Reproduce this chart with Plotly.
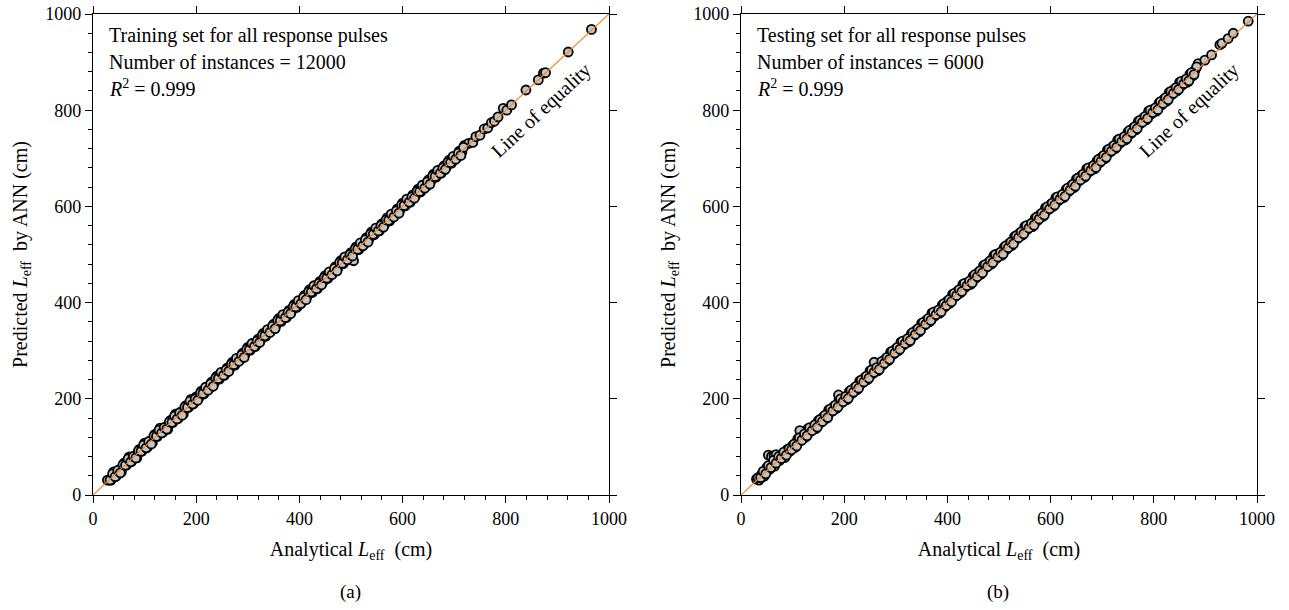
import plotly.graph_objects as go

# ---------------- data ----------------
train_x = [28, 35, 40, 45, 50, 55, 60, 65, 70, 75, 80, 85, 90, 95, 100, 105, 110, 115, 120, 125,
           130, 135, 140, 145, 150, 155, 160, 165, 170, 175, 180, 185, 190, 195,
           200, 205, 210, 215, 220, 225, 230, 235, 240, 245, 250, 255, 260, 265, 270, 275,
           280, 285, 290, 295, 300, 305, 310, 315, 320, 325, 330, 335, 340, 345, 350, 355,
           360, 365, 370, 375, 380, 385, 390, 395, 400, 405, 410, 415, 420, 425, 430, 435,
           440, 445, 450, 455, 460, 465, 470, 475, 480, 485, 490, 495, 500, 505, 510, 515,
           520, 525, 530, 535, 540, 545, 550, 555, 560, 565, 570, 575, 580, 585, 590, 595,
           600, 605, 610, 615, 620, 625, 630, 635, 640, 645, 650, 655, 660, 665, 670, 675,
           680, 685, 690, 695, 700, 705, 710, 715, 720,
           728, 736, 742, 750, 758, 765, 772, 778, 785, 795, 802, 811, 839, 863, 873, 877, 921, 966]
train_y = [31, 31, 48, 39, 52, 48, 66, 62, 79, 70, 81, 77, 95, 91, 108, 99, 112, 108, 126, 122,
           139, 130, 141, 137, 155, 151, 168, 159, 172, 168, 186, 182, 199, 190,
           204, 202, 216, 210, 222, 221, 235, 233, 247, 241, 251, 249, 264, 262, 276, 270,
           282, 281, 295, 293, 307, 301, 311, 309, 324, 322, 336, 330, 342, 341, 355, 353,
           367, 361, 371, 369, 384, 382, 396, 390, 402, 401, 415, 413, 427, 421, 431, 429,
           444, 442, 456, 450, 462, 461, 475, 473, 487, 481, 491, 489, 504, 487, 516, 510,
           522, 521, 535, 533, 547, 541, 551, 549, 564, 562, 576, 570, 582, 581, 595, 593,
           607, 601, 611, 609, 624, 622, 636, 630, 642, 641, 655, 653, 667, 661, 671, 669,
           684, 682, 696, 690, 702, 701, 715, 713, 727,
           731, 733, 745, 748, 761, 763, 774, 777, 786, 804, 800, 811, 842, 863, 877, 878, 921, 968]

# second batch of training instances (between the first ones)
train_x2 = [33, 38, 43, 48, 53, 58, 63, 68, 73, 78, 83, 88, 93, 98, 103, 108, 113, 118, 123, 128,
            133, 138, 143, 148, 153, 158, 163, 168, 173, 178, 183, 188, 193, 198, 203, 208,
            213, 218, 223, 228, 233, 238, 243, 248, 253, 258, 263, 268, 273, 278, 283, 288,
            293, 298, 303, 308, 313, 318, 323, 328, 333, 338, 343, 348, 353, 358, 363, 368,
            373, 378, 383, 388, 393, 398, 403, 408, 413, 418, 423, 428, 433, 438, 443, 448,
            453, 458, 463, 468, 473, 478, 483, 488, 493, 498, 503, 508, 513, 518, 523, 528,
            533, 538, 543, 548, 553, 558, 563, 568, 573, 578, 583, 588, 593, 598, 603, 608,
            613, 618, 623, 628, 633, 638, 643, 648, 653, 658, 663, 668, 673, 678, 683, 688,
            693, 698, 703, 708, 713, 718]
train_y2 = [31, 44, 38, 51, 46, 63, 62, 75, 69, 80, 77, 92, 91, 104, 98, 111, 106, 123, 122, 135,
            129, 140, 137, 152, 151, 164, 158, 171, 166, 183, 182, 195, 189, 200, 197, 212,
            211, 224, 218, 231, 226, 243, 242, 255, 249, 260, 257, 272, 271, 284, 278, 291,
            286, 303, 302, 315, 309, 320, 317, 332, 331, 344, 338, 351, 346, 363, 362, 375,
            369, 380, 377, 392, 391, 404, 398, 411, 406, 423, 422, 435, 429, 440, 437, 452,
            451, 464, 458, 471, 466, 483, 482, 495, 489, 500, 497, 512, 511, 524, 518, 531,
            526, 543, 542, 555, 549, 560, 557, 572, 571, 584, 578, 591, 586, 603, 602, 615,
            609, 620, 617, 632, 631, 644, 638, 651, 646, 663, 662, 675, 669, 680, 677, 692,
            691, 704, 698, 711, 706, 723]

test_x = [30, 35, 40, 45, 50, 55, 60, 65, 70, 75, 80, 85, 90, 95, 100, 105, 110, 115, 120, 125,
          130, 135, 140, 145, 150, 155, 160, 165, 170, 175, 180, 185, 190, 195, 200, 205,
          210, 215, 220, 225, 230, 235, 240, 245, 250, 255, 260, 265, 270, 275, 280, 285,
          290, 295, 300, 305, 310, 315, 320, 325, 330, 335, 340, 345, 350, 355, 360, 365,
          370, 375, 380, 385, 390, 395, 400, 405, 410, 415, 420, 425, 430, 435, 440, 445,
          450, 455, 460, 465, 470, 475, 480, 485, 490, 495, 500, 505, 510, 515, 520, 525,
          530, 535, 540, 545, 550, 555, 560, 565, 570, 575, 580, 585, 590, 595, 600, 605,
          610, 615, 620, 625, 630, 635, 640, 645, 650, 655, 660, 665, 670, 675, 680, 685,
          690, 695, 700, 705, 710, 715, 720, 725, 730, 735, 740, 745, 750, 755, 760, 765,
          770, 775, 780, 785, 790, 795, 800, 805, 810, 815, 820, 825, 830, 835, 840, 845,
          850, 855, 860, 865, 870, 875, 880,
          886, 883, 899, 912, 928, 932, 944, 954, 983,
          53, 59, 64, 68, 114, 189, 258]
test_y = [33, 31, 43, 39, 57, 53, 64, 60, 78, 72, 82, 78, 95, 91, 103, 99, 117, 113, 124, 120,
          138, 132, 142, 138, 155, 151, 163, 159, 177, 173, 184, 180, 198, 192, 202, 198,
          215, 211, 223, 219, 237, 233, 244, 240, 258, 252, 262, 258, 275, 271, 283, 279,
          297, 293, 304, 300, 318, 312, 322, 318, 335, 331, 343, 339, 357, 353, 364, 360,
          378, 372, 382, 378, 395, 391, 403, 399, 417, 413, 424, 420, 438, 432, 442, 438,
          455, 451, 463, 459, 477, 473, 484, 480, 498, 492, 502, 498, 515, 511, 523, 519,
          537, 533, 544, 540, 558, 552, 562, 558, 575, 571, 583, 579, 597, 593, 604, 600,
          618, 612, 622, 618, 635, 631, 643, 639, 657, 653, 664, 660, 678, 672, 682, 678,
          695, 691, 703, 699, 717, 713, 724, 720, 738, 732, 742, 738, 755, 751, 763, 759,
          777, 773, 784, 780, 798, 792, 802, 798, 815, 811, 823, 819, 837, 833, 844, 840,
          858, 852, 862, 858, 875, 871, 883,
          897, 890, 904, 915, 936, 939, 949, 960, 985,
          83, 80, 82, 84, 134, 208, 276]

# second batch of testing instances
test_x2 = [33, 38, 43, 48, 53, 58, 63, 68, 73, 78, 83, 88, 93, 98, 103, 108, 113, 118, 123, 128,
           133, 138, 143, 148, 153, 158, 163, 168, 173, 178, 183, 188, 193, 198, 203, 208,
           213, 218, 223, 228, 233, 238, 243, 248, 253, 258, 263, 268, 273, 278, 283, 288,
           293, 298, 303, 308, 313, 318, 323, 328, 333, 338, 343, 348, 353, 358, 363, 368,
           373, 378, 383, 388, 393, 398, 403, 408, 413, 418, 423, 428, 433, 438, 443, 448,
           453, 458, 463, 468, 473, 478, 483, 488, 493, 498, 503, 508, 513, 518, 523, 528,
           533, 538, 543, 548, 553, 558, 563, 568, 573, 578, 583, 588, 593, 598, 603, 608,
           613, 618, 623, 628, 633, 638, 643, 648, 653, 658, 663, 668, 673, 678, 683, 688,
           693, 698, 703, 708, 713, 718, 723, 728, 733, 738, 743, 748, 753, 758, 763, 768,
           773, 778, 783, 788, 793, 798, 803, 808, 813, 818, 823, 828, 833, 838, 843, 848,
           853, 858, 863, 868, 873, 878]
test_y2 = [36, 36, 49, 44, 61, 57, 72, 66, 80, 76, 89, 83, 96, 94, 106, 102, 119, 114, 127, 123,
           140, 134, 146, 141, 157, 153, 166, 161, 179, 175, 187, 183, 200, 194, 205, 201,
           218, 214, 226, 222, 239, 235, 247, 243, 260, 255, 265, 261, 278, 274, 286, 282,
           299, 295, 307, 303, 320, 315, 325, 321, 338, 334, 346, 342, 359, 355, 367, 363,
           380, 375, 385, 381, 398, 394, 406, 402, 419, 415, 427, 423, 440, 435, 445, 441,
           458, 454, 466, 462, 479, 475, 487, 483, 500, 495, 505, 501, 518, 514, 526, 522,
           539, 535, 547, 543, 560, 555, 565, 561, 578, 574, 586, 582, 599, 595, 607, 603,
           620, 615, 625, 621, 638, 634, 646, 642, 659, 655, 667, 663, 680, 675, 685, 681,
           698, 694, 706, 702, 719, 715, 727, 723, 740, 735, 745, 741, 758, 754, 766, 762,
           779, 775, 787, 783, 800, 795, 805, 801, 818, 814, 826, 822, 839, 835, 847, 843,
           860, 855, 865, 861, 878, 874]

equality_x = [0, 1000]
equality_y = [0, 1000]
major_ticks = [0, 200, 400, 600, 800, 1000]

panel_titles = [
    ["Training set for all response pulses", "Number of instances = 12000", "<i>R</i><sup>2</sup> = 0.999"],
    ["Testing set for all response pulses", "Number of instances = 6000", "<i>R</i><sup>2</sup> = 0.999"],
]
panel_labels = ["(a)", "(b)"]

FONT = "Liberation Serif"
W, H = 1289, 610

fig = go.Figure()

xdom = [[93 / W, 609 / W], [741 / W, 1257 / W]]
ydom = [(610 - 495) / H, (610 - 14) / H]

marker_style = dict(size=9, color="#c4c4c4", line=dict(color="#000000", width=1.8))
datasets = [((train_x, train_y), (train_x2, train_y2)), ((test_x, test_y), (test_x2, test_y2))]
for i, sets in enumerate(datasets):
    xa = "x" if i == 0 else "x2"
    ya = "y" if i == 0 else "y2"
    for xs, ys in sets:
        fig.add_trace(go.Scatter(x=xs, y=ys, mode="markers", xaxis=xa, yaxis=ya,
                                 marker=marker_style, showlegend=False, hoverinfo="skip"))
    fig.add_trace(go.Scatter(x=equality_x, y=equality_y, mode="lines", xaxis=xa, yaxis=ya,
                             line=dict(color="#f0892f", width=1.2),
                             showlegend=False, hoverinfo="skip"))

axis_common = dict(range=[0, 1000], showgrid=False, zeroline=False, showline=True, automargin=False,
                   linecolor="black", linewidth=1.2, ticks="outside", ticklen=7,
                   tickwidth=1, tickcolor="black", tickvals=major_ticks,
                   tickfont=dict(family=FONT, size=18, color="black"),
                   minor=dict(dtick=40, ticks="outside", ticklen=4, tickcolor="black", tickwidth=1))

xt = "Analytical <i>L</i><sub>eff</sub>  (cm)"
yt = "Predicted <i>L</i><sub>eff</sub>  by ANN (cm)"
title_font = dict(family=FONT, size=20, color="black")

layout = dict(
    width=W, height=H, margin=dict(l=0, r=0, t=0, b=0),
    plot_bgcolor="white", paper_bgcolor="white",
    xaxis=dict(domain=xdom[0], anchor="y", title=dict(text=xt, font=title_font, standoff=14), **axis_common),
    yaxis=dict(domain=ydom, anchor="x", title=dict(text=yt, font=title_font, standoff=12), **axis_common),
    xaxis2=dict(domain=xdom[1], anchor="y2", title=dict(text=xt, font=title_font, standoff=14), **axis_common),
    yaxis2=dict(domain=ydom, anchor="x2", title=dict(text=yt, font=title_font, standoff=12), **axis_common),
)

mirror_common = dict(range=[0, 1000], showgrid=False, zeroline=False, showline=True, automargin=False,
                     linecolor="black", linewidth=1.2, ticks="outside", ticklen=7,
                     tickwidth=1, tickcolor="black", tickvals=major_ticks, showticklabels=False)
layout["xaxis3"] = dict(overlaying="x", side="top", anchor="y", **mirror_common)
layout["yaxis3"] = dict(overlaying="y", side="right", anchor="x", **mirror_common)
layout["xaxis4"] = dict(overlaying="x2", side="top", anchor="y2", **mirror_common)
layout["yaxis4"] = dict(overlaying="y2", side="right", anchor="x2", **mirror_common)
fig.update_layout(**layout)

fig.add_trace(go.Scatter(x=[None], y=[None], xaxis="x3", yaxis="y3", showlegend=False, hoverinfo="skip"))
fig.add_trace(go.Scatter(x=[None], y=[None], xaxis="x4", yaxis="y4", showlegend=False, hoverinfo="skip"))

annotations = []
for i in range(2):
    xref = "x domain" if i == 0 else "x2 domain"
    yref = "y domain" if i == 0 else "y2 domain"
    for j, line in enumerate(panel_titles[i]):
        annotations.append(dict(text=line, xref=xref, yref=yref, x=0.027, y=1 - (21 + 26.5 * j) / 481,
                                xanchor="left", yanchor="middle", showarrow=False,
                                font=dict(family=FONT, size=20, color="black")))
    annotations.append(dict(text="Line of equality", xref=xref, yref=yref,
                            x=(541 - 93) / 516, y=(495 - 110) / 481, textangle=-43,
                            xanchor="center", yanchor="middle",
                            showarrow=False, font=dict(family=FONT, size=20, color="black")))
    annotations.append(dict(text=panel_labels[i], xref="paper", yref="paper",
                            x=(350 if i == 0 else 998) / W, y=(610 - 592) / H,
                            xanchor="center", yanchor="middle", showarrow=False,
                            font=dict(family=FONT, size=19, color="black")))
fig.update_layout(annotations=annotations)

fig.write_html("out.html")
